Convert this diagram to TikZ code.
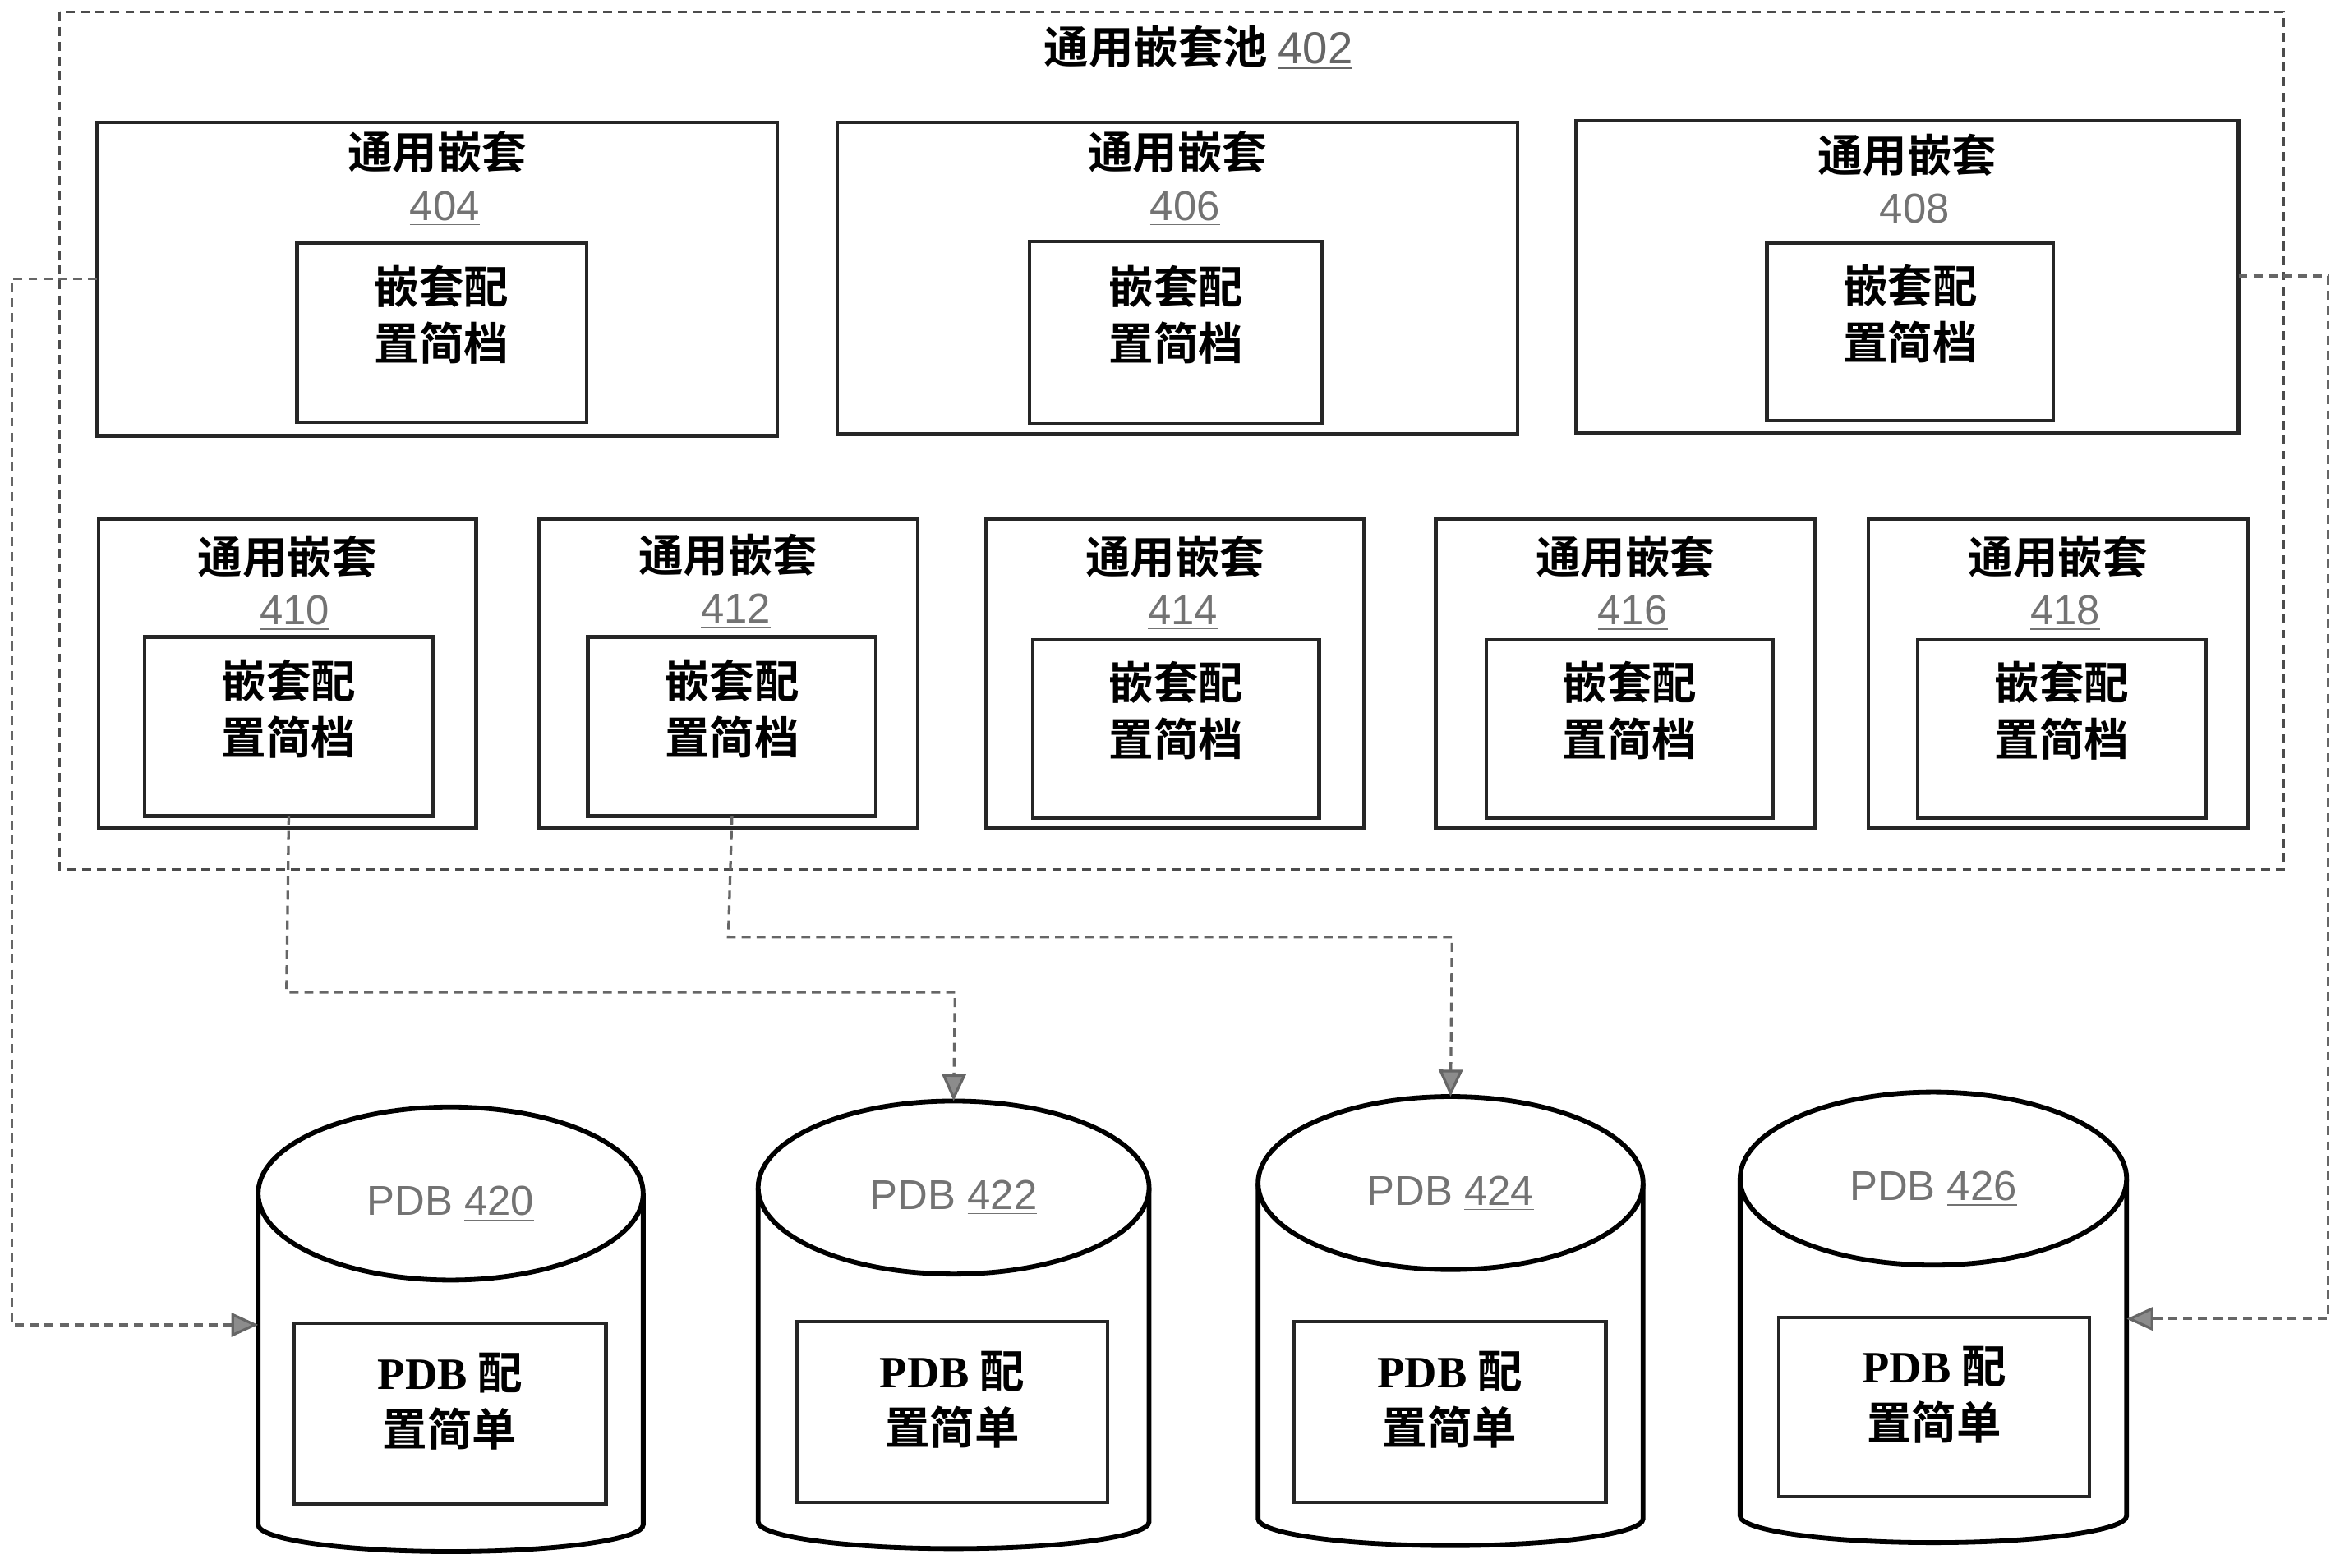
\documentclass[tikz,border=0pt]{standalone}
\usepackage{fontspec}
\setmainfont{Liberation Sans}
\newfontfamily\cjk{Noto Sans CJK SC}[BoldFont={Noto Sans CJK SC Bold}]
\newfontfamily\serifb{Liberation Serif}
\usetikzlibrary{arrows.meta}
\begin{document}
\begin{tikzpicture}[x=0.5pt,y=-0.5pt,
  box/.style={draw=black!85,line width=1.2pt},
  ttl/.style={font=\cjk\bfseries\fontsize{15}{16}\selectfont},
  num/.style={font=\fontsize{14}{15}\selectfont,text=black!55},
  inn/.style={font=\cjk\bfseries\fontsize{15}{19}\selectfont,align=center},
  conn/.style={draw=black!60,densely dashed,line width=0.9pt,-{Triangle[open,length=9pt,width=8pt,fill=black!45]}},
  cyl/.style={draw=black,line width=1.6pt,fill=white}]
\useasboundingbox (0,0) rectangle (1568,1051);
\draw[black!70,densely dashed,line width=0.9pt] (40,8) rectangle (1530,583);
\node[font=\cjk\bfseries\fontsize{15}{16}\selectfont] (pt) at (803,32) {通用嵌套池 {\normalfont\rmfamily\color{black!60}\underline{402}}};
\newcommand\myinner[5]{%
  \draw[box] (#1,#2) rectangle (#3,#4);
  \node[inn] (in#5) at ({(#1+#3)/2},{(#2+#4)/2-12}) {嵌套配\\置简档};
  \coordinate (b#5) at ({(#1+#3)/2},#4);
}
\newcommand\myouter[6]{%
  \draw[box] (#1,#2) rectangle (#3,#4);
  \node[ttl] at ({(#1+#3)/2},#6) {通用嵌套};
  \node[num] at ({(#1+#3)/2+5},{#6+38}) {\underline{#5}};
  \coordinate (L#5) at (#1,187); \coordinate (R#5) at (#3,185);
}
\myouter{65}{82}{521}{292}{404}{102}\myinner{199}{163}{393}{283}{404}
\myouter{561}{82}{1017}{291}{406}{102}\myinner{690}{162}{886}{284}{406}
\myouter{1056}{81}{1500}{290}{408}{104}\myinner{1184}{163}{1376}{282}{408}
\myouter{66}{348}{319}{555}{410}{373}\myinner{97}{427}{290}{547}{410}
\myouter{361}{348}{615}{555}{412}{372}\myinner{394}{427}{587}{547}{412}
\myouter{661}{348}{914}{555}{414}{373}\myinner{692}{429}{884}{548}{414}
\myouter{962}{348}{1216}{555}{416}{373}\myinner{996}{429}{1188}{548}{416}
\myouter{1252}{348}{1506}{555}{418}{373}\myinner{1285}{429}{1478}{548}{418}
\newcommand\mycyl[9]{%
  \draw[cyl] (#1,{#3+58}) -- (#1,{#4-18}) arc[start angle=180,end angle=0,x radius={(#2-#1)/2},y radius=18] -- (#2,{#3+58});
  \draw[cyl] ({(#1+#2)/2},{#3+58}) ellipse[x radius={(#2-#1)/2},y radius=58];
  \coordinate (t#5) at ({(#1+#2)/2},#3);
  \node[font=\fontsize{14}{15}\selectfont,text=black!55] at ({(#1+#2)/2},{#3+65}) {PDB \underline{#5}};
  \draw[box] (#6,#7) rectangle (#8,#9);
  \node[font=\cjk\bfseries\fontsize{15}{19}\selectfont,align=center] at ({(#6+#8)/2},{(#7+#9)/2-8}) {{\serifb\bfseries PDB} 配\\置简单};
}
\mycyl{173}{431}{742}{1040}{420}{197}{887}{406}{1008}
\mycyl{508}{770}{738}{1038}{422}{534}{886}{742}{1007}
\mycyl{843}{1101}{735}{1036}{424}{867}{886}{1076}{1007}
\mycyl{1166}{1425}{732}{1034}{426}{1192}{883}{1400}{1003}
\draw[conn] (b410) -- (192,665) -- (640,665) -- (t422);
\draw[conn] (b412) -- (488,628) -- (973,628) -- (t424);
\draw[conn] (L404) -- (8,187) -- (8,888) -- (173,888);
\draw[conn] (R408) -- (1560,185) -- (1560,884) -- (1425,884);
\end{tikzpicture}
\end{document}
